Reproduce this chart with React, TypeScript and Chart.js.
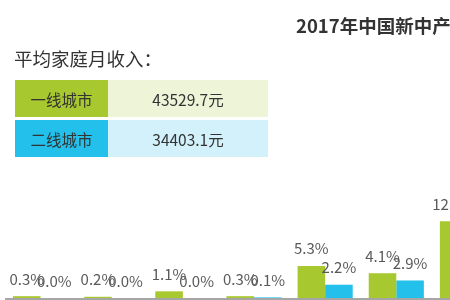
import React, { useEffect, useRef } from "react";
import { Chart, registerables } from "chart.js";

Chart.register(...registerables);

const title = "2017年中国新中产阶级家庭月收入分布";
const legendHeading = "平均家庭月收入：";
const tierNames = ["一线城市", "二线城市"];
const tierIncome = ["43529.7元", "34403.1元"];
const categories = ["<5千", "5千-1万", "1-1.5万", "1.5-2万", "2-2.5万", "2.5-3万", "3-4万"];
const firstTier = [0.3, 0.2, 1.1, 0.3, 5.3, 4.1, 12.7];
const secondTier = [0.0, 0.0, 0.0, 0.1, 2.2, 2.9, 8.0];

const GREEN = "#a8c82f";
const BLUE = "#22c0ea";
const GREEN_LIGHT = "#eef4d8";
const BLUE_LIGHT = "#d3f1fa";
const FONT = '"Noto Sans CJK SC", "Noto Sans", sans-serif';

const labelPlugin = {
  id: "barLabels",
  afterDatasetsDraw(chart: any) {
    const ctx = chart.ctx;
    const area = chart.chartArea;
    ctx.save();
    ctx.fillStyle = "#a6a6a6";
    ctx.fillRect(area.left, area.bottom, chart.width - area.left, 2);
    ctx.font = "15px " + FONT;
    ctx.fillStyle = "#595959";
    ctx.textAlign = "center";
    ctx.textBaseline = "alphabetic";
    chart.data.datasets.forEach((ds: any, di: number) => {
      const meta = chart.getDatasetMeta(di);
      meta.data.forEach((bar: any, i: number) => {
        const v = ds.data[i];
        ctx.fillText(v.toFixed(1) + "%", bar.x, bar.y - 11.5);
      });
    });
    ctx.restore();
  },
};

function BarChart() {
  const ref = useRef<HTMLCanvasElement>(null);
  useEffect(() => {
    if (!ref.current) return;
    const chart = new Chart(ref.current, {
      type: "bar",
      data: {
        labels: categories,
        datasets: [
          { label: tierNames[0], data: firstTier, backgroundColor: GREEN, barPercentage: 1, categoryPercentage: 0.775 },
          { label: tierNames[1], data: secondTier, backgroundColor: BLUE, barPercentage: 1, categoryPercentage: 0.775 },
        ],
      },
      options: {
        responsive: false,
        animation: false,
        devicePixelRatio: 1,
        layout: { padding: { left: 5, right: 0, top: 0, bottom: 2 } },
        plugins: { legend: { display: false }, tooltip: { enabled: false }, title: { display: false } },
        scales: {
          x: { display: false },
          y: { display: false, min: 0, max: 49.3 },
        },
      },
      plugins: [labelPlugin],
    });
    return () => chart.destroy();
  }, []);
  return <canvas ref={ref} width={503} height={300} style={{ position: "absolute", left: 0, top: 0, width: 503, height: 300 }} />;
}

export default function App() {
  const rows = [
    { name: tierNames[0], value: tierIncome[0], dark: GREEN, light: GREEN_LIGHT, top: 80 },
    { name: tierNames[1], value: tierIncome[1], dark: BLUE, light: BLUE_LIGHT, top: 120 },
  ];
  return (
    <div style={{ position: "absolute", left: 0, top: 0, width: 450, height: 300, overflow: "hidden", background: "#fff", fontFamily: FONT }}>
      <BarChart />
      <div style={{ position: "absolute", left: 296, top: 12, whiteSpace: "nowrap", fontSize: 18.5, fontWeight: "bold", color: "#333", lineHeight: "26px" }}>
        {title}
      </div>
      <div style={{ position: "absolute", left: 14, top: 45, whiteSpace: "nowrap", fontSize: 18.5, color: "#333", lineHeight: "26px" }}>
        {legendHeading}
      </div>
      {rows.map((r) => (
        <React.Fragment key={r.name}>
          <div style={{ position: "absolute", left: 15, top: r.top, width: 93, height: 37, background: r.dark, color: "#333", fontSize: 15.5, display: "flex", alignItems: "center", justifyContent: "center" }}>
            {r.name}
          </div>
          <div style={{ position: "absolute", left: 108, top: r.top, width: 160, height: 37, background: r.light, color: "#333", fontSize: 15.5, display: "flex", alignItems: "center", justifyContent: "center" }}>
            {r.value}
          </div>
        </React.Fragment>
      ))}
    </div>
  );
}
